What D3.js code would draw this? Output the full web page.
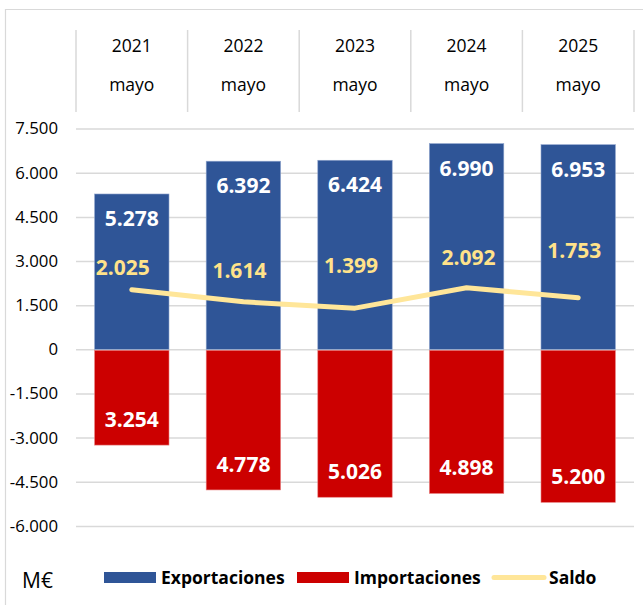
<!DOCTYPE html>
<html>
<head>
<meta charset="utf-8">
<script src="https://cdn.jsdelivr.net/npm/d3@7"></script>
<style>
  body { margin: 0; background: #fff; }
  svg text { font-family: "Open Sans", "Noto Sans", sans-serif; }
</style>
</head>
<body>
<div id="chart"></div>
<script>
//************************  data *************************
var years = ["2021", "2022", "2023", "2024", "2025"];
var monthLabel = "mayo";
var exportaciones = [5278, 6392, 6424, 6990, 6953];
var importaciones = [-3254, -4778, -5026, -4898, -5200];
var saldo = [2025, 1614, 1399, 2092, 1753];
var yTicks = [-6000, -4500, -3000, -1500, 0, 1500, 3000, 4500, 6000, 7500];
var unitLabel = "M€";
var legendNames = ["Exportaciones", "Importaciones", "Saldo"];

// label nudges for the saldo values (as placed in the original)
var saldoLabelDx = [-9, -4, -4, 2, -4];
var saldoLabelDy = [-15, -24, -35, -23, -40];

var fmt = function (v) {
    return d3.format(",")(Math.abs(v)).replace(/,/g, ".");
};

//************************  chart *************************
var width = 643, height = 605;
var plotLeft = 76, plotRight = 634;

var svg = d3.select("#chart").append("svg")
    .attr("width", width)
    .attr("height", height);

// outer frame (left + top visible)
svg.append("path")
    .attr("d", "M5.5," + height + "V9.5H" + width)
    .attr("fill", "none")
    .attr("stroke", "#d9d9d9")
    .attr("stroke-width", 1.2);

var y = d3.scaleLinear()
    .domain([-6000, 7500])
    .range([525.9, 128.6]);

var col = d3.scaleBand()
    .domain(years)
    .range([plotLeft, plotRight])
    .padding(0);

var x = d3.scaleBand()
    .domain(years)
    .range([plotLeft, plotRight])
    .paddingInner(1 / 3)
    .paddingOuter(1 / 6);

// header table
var header = svg.append("g").attr("class", "header");
header.selectAll(".sep")
    .data(years.concat(["end"]))
    .enter().append("line")
    .attr("class", "sep")
    .attr("x1", function (d, i) { return plotLeft + i * col.step(); })
    .attr("x2", function (d, i) { return plotLeft + i * col.step(); })
    .attr("y1", 30)
    .attr("y2", 112)
    .attr("stroke", "#d9d9d9")
    .attr("stroke-width", 1.5);

header.selectAll(".yr")
    .data(years)
    .enter().append("text")
    .attr("class", "yr")
    .attr("x", function (d) { return col(d) + col.bandwidth() / 2; })
    .attr("y", 51.5)
    .attr("text-anchor", "middle")
    .attr("font-size", 17.5)
    .attr("fill", "#000")
    .text(function (d) { return d; });

header.selectAll(".mo")
    .data(years)
    .enter().append("text")
    .attr("class", "mo")
    .attr("x", function (d) { return col(d) + col.bandwidth() / 2; })
    .attr("y", 90.5)
    .attr("text-anchor", "middle")
    .attr("font-size", 17.5)
    .attr("fill", "#000")
    .text(monthLabel);

// y axis with gridlines
var yAxis = d3.axisLeft(y)
    .tickValues(yTicks)
    .tickSize(-(plotRight - plotLeft))
    .tickPadding(18)
    .tickFormat(function (d) { return d < 0 ? "-" + fmt(d) : fmt(d); });

var gy = svg.append("g")
    .attr("class", "y-axis")
    .attr("transform", "translate(" + plotLeft + ",0)")
    .call(yAxis);
gy.select(".domain").remove();
gy.selectAll(".tick line")
    .attr("stroke", "#d9d9d9")
    .attr("stroke-width", 1.5);
gy.selectAll(".tick text")
    .attr("font-size", 16.8)
    .attr("fill", "#000")
    .attr("x", -18);

// bars
var expData = years.map(function (d, i) { return {year: d, v: exportaciones[i]}; });
var impData = years.map(function (d, i) { return {year: d, v: importaciones[i]}; });
var salData = years.map(function (d, i) { return {year: d, v: saldo[i], i: i}; });

svg.selectAll(".exp")
    .data(expData)
    .enter().append("rect")
    .attr("class", "exp")
    .attr("x", function (d) { return x(d.year); })
    .attr("y", function (d) { return y(d.v); })
    .attr("width", x.bandwidth())
    .attr("height", function (d) { return y(0) - y(d.v); })
    .attr("fill", "#2F5597")
    .attr("stroke", "#8ea3cc")
    .attr("stroke-width", 0.6);

svg.selectAll(".imp")
    .data(impData)
    .enter().append("rect")
    .attr("class", "imp")
    .attr("x", function (d) { return x(d.year); })
    .attr("y", y(0) + 1)
    .attr("width", x.bandwidth())
    .attr("height", function (d) { return y(d.v) - y(0) - 1; })
    .attr("fill", "#CC0000")
    .attr("stroke", "#e88080")
    .attr("stroke-width", 0.6);

// bar labels
svg.selectAll(".expLabel")
    .data(expData)
    .enter().append("text")
    .attr("class", "expLabel")
    .attr("x", function (d) { return x(d.year) + x.bandwidth() / 2; })
    .attr("y", function (d) { return y(d.v) + 32; })
    .attr("text-anchor", "middle")
    .attr("font-size", 21)
    .attr("font-weight", "bold")
    .attr("fill", "#fff")
    .text(function (d) { return fmt(d.v); });

svg.selectAll(".impLabel")
    .data(impData)
    .enter().append("text")
    .attr("class", "impLabel")
    .attr("x", function (d) { return x(d.year) + x.bandwidth() / 2; })
    .attr("y", function (d) { return y(d.v) - 18; })
    .attr("text-anchor", "middle")
    .attr("font-size", 21)
    .attr("font-weight", "bold")
    .attr("fill", "#fff")
    .text(function (d) { return fmt(d.v); });

// saldo line
var line = d3.line()
    .x(function (d) { return x(d.year) + x.bandwidth() / 2; })
    .y(function (d) { return y(d.v); });

svg.append("path")
    .datum(salData)
    .attr("d", line)
    .attr("fill", "none")
    .attr("stroke", "#FFE699")
    .attr("stroke-width", 5)
    .attr("stroke-linecap", "round")
    .attr("stroke-linejoin", "round");

svg.selectAll(".salLabel")
    .data(salData)
    .enter().append("text")
    .attr("class", "salLabel")
    .attr("x", function (d) { return x(d.year) + x.bandwidth() / 2 + saldoLabelDx[d.i]; })
    .attr("y", function (d) { return y(d.v) + saldoLabelDy[d.i]; })
    .attr("text-anchor", "middle")
    .attr("font-size", 21)
    .attr("font-weight", "bold")
    .attr("fill", "#FFE28A")
    .text(function (d) { return fmt(d.v); });

//************************  legend *************************
svg.append("text")
    .attr("x", 22)
    .attr("y", 588)
    .attr("font-size", 21)
    .attr("fill", "#000")
    .text(unitLabel);

var legend = svg.append("g").attr("class", "legend");
var legX = [104, 297, 492];
var legColors = ["#2F5597", "#CC0000", "#FFE699"];

legendNames.forEach(function (name, i) {
    if (i < 2) {
        legend.append("rect")
            .attr("x", legX[i])
            .attr("y", 572)
            .attr("width", 52)
            .attr("height", 11)
            .attr("fill", legColors[i]);
    } else {
        legend.append("line")
            .attr("x1", legX[i] + 2)
            .attr("x2", legX[i] + 52)
            .attr("y1", 577.5)
            .attr("y2", 577.5)
            .attr("stroke", legColors[i])
            .attr("stroke-width", 5)
            .attr("stroke-linecap", "round");
    }
    legend.append("text")
        .attr("x", legX[i] + 57)
        .attr("y", 584)
        .attr("font-size", 17.5)
        .attr("font-weight", "bold")
        .attr("fill", "#000")
        .text(name);
});
</script>
</body>
</html>
